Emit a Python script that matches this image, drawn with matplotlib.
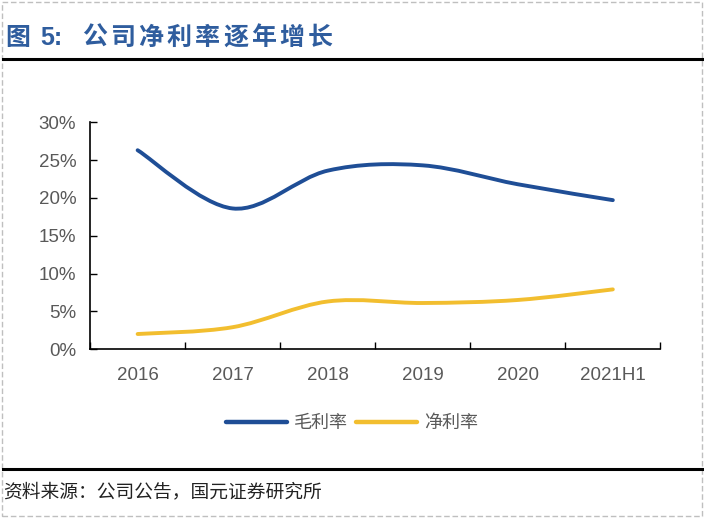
# encoding: utf-8
import matplotlib
matplotlib.use('Agg')
import matplotlib.pyplot as plt
import numpy as np
from matplotlib.path import Path
from matplotlib.patches import PathPatch, Rectangle
from matplotlib.lines import Line2D

plt.rcParams['font.family'] = ['Noto Sans CJK SC', 'DejaVu Sans']

years = ['2016', '2017', '2018', '2019', '2020', '2021H1']
gross_margin = [26.3, 18.6, 23.6, 24.3, 21.8, 19.7]
net_margin = [2.0, 2.9, 6.3, 6.1, 6.5, 7.9]
y_ticks = [0, 5, 10, 15, 20, 25, 30]

blue = '#1F4E96'
yellow = '#F2BE2F'
gray = '#595959'
latin = ['Liberation Sans', 'DejaVu Sans']


def smooth_path(x, y):
    # excel-like smoothed line: bezier through points
    x = np.asarray(x, float)
    y = np.asarray(y, float)
    n = len(x)
    verts = [(x[0], y[0])]
    codes = [Path.MOVETO]
    for i in range(n - 1):
        p0 = np.array([x[max(i - 1, 0)], y[max(i - 1, 0)]])
        p1 = np.array([x[i], y[i]])
        p2 = np.array([x[i + 1], y[i + 1]])
        p3 = np.array([x[min(i + 2, n - 1)], y[min(i + 2, n - 1)]])
        c1 = p1 + (p2 - p0) / 6.0
        c2 = p2 - (p3 - p1) / 6.0
        verts += [tuple(c1), tuple(c2), tuple(p2)]
        codes += [Path.CURVE4] * 3
    return Path(verts, codes)


fig = plt.figure(figsize=(7.04, 5.18), dpi=100)

# outer dashed frame
fig.patches.append(Rectangle((0.003, 0.003), 0.994, 0.994, transform=fig.transFigure,
                             fill=False, edgecolor='#BFBFBF', linestyle=(0, (4, 2)),
                             linewidth=1.0))

# title, characters spread out a bit like the original
title_color = '#2F5D9E'
fig.text(0.008, 0.927, '图', fontsize=18, fontweight='bold', color=title_color,
         va='center', ha='left')
fig.text(0.057, 0.927, '5:', fontsize=18, fontweight='bold', color=title_color,
         va='center', ha='left', family=latin)
for i, ch in enumerate('公司净利率逐年增长'):
    fig.text((82 + i * 28.2) / 704.0, 0.927, ch, fontsize=18, fontweight='bold',
             color=title_color, va='center', ha='left')

fig.add_artist(Line2D([0.004, 1.0], [0.886, 0.886], color='black', linewidth=2.2,
                      transform=fig.transFigure))
fig.add_artist(Line2D([0.004, 1.0], [0.094, 0.094], color='black', linewidth=2.2,
                      transform=fig.transFigure))
fig.text(0.004, 0.05, '资料来源：公司公告，国元证券研究所', fontsize=13.5,
         color='#222222', va='center', ha='left')

ax = fig.add_axes([0.128, 0.326, 0.81, 0.438])
xs = np.arange(len(years))
for vals, col in [(gross_margin, blue), (net_margin, yellow)]:
    ax.add_patch(PathPatch(smooth_path(xs, vals), facecolor='none', edgecolor=col,
                           linewidth=2.8, capstyle='round'))

ax.set_xlim(-0.5, len(years) - 0.5)
ax.set_ylim(0, 30)
ax.set_yticks(y_ticks)
ax.set_yticklabels(['%d%%' % v for v in y_ticks], fontsize=13.5, color=gray,
                   family=latin)
ax.set_xticks(xs)
ax.set_xticklabels(years, fontsize=13.5, color=gray, family=latin)
ax.set_xticks(np.arange(-0.5, len(years) + 0.5, 1), minor=True)
ax.tick_params(axis='x', which='major', length=0, pad=13)
ax.tick_params(axis='x', which='minor', length=5, direction='in', width=1)
ax.tick_params(axis='y', length=5, direction='in', width=1, pad=10)
for s in ['top', 'right']:
    ax.spines[s].set_visible(False)
ax.spines['left'].set_linewidth(1.2)
ax.spines['bottom'].set_linewidth(1.2)

handles = [Line2D([], [], color=blue, linewidth=3.2, solid_capstyle='round'),
           Line2D([], [], color=yellow, linewidth=3.2, solid_capstyle='round')]
fig.legend(handles, ['毛利率', '净利率'], loc='center', bbox_to_anchor=(0.5, 0.183),
           ncol=2, frameon=False, fontsize=13, handlelength=3.4, columnspacing=0.4,
           handletextpad=0.4, labelcolor=gray)

fig.savefig('out.png', dpi=100)
